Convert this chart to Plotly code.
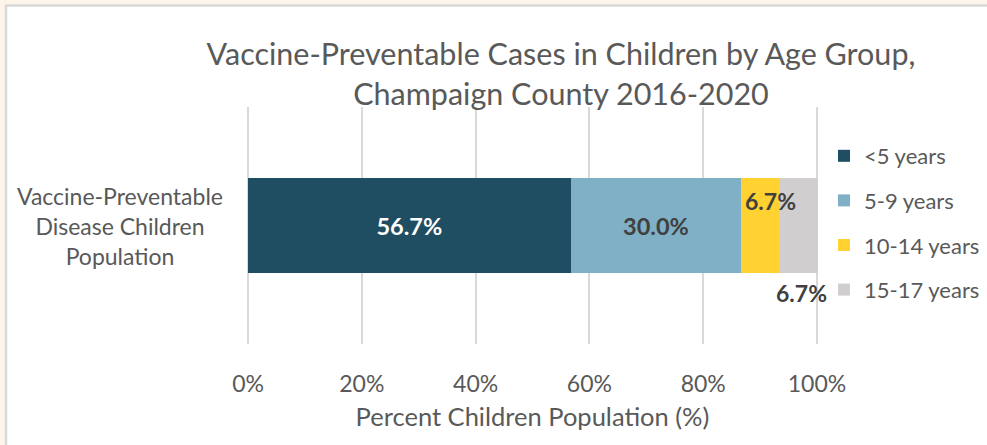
import plotly.graph_objects as go

category = ["Vaccine-Preventable Disease Children Population"]
age_groups = ["<5 years", "5-9 years", "10-14 years", "15-17 years"]
values = [56.7, 30.0, 6.7, 6.7]
colors = ["#1F4E63", "#7FB0C6", "#FFD232", "#D0CECE"]
label_colors = ["#FFFFFF", "#404040", "#404040", "#404040"]
x_ticks = [0, 20, 40, 60, 80, 100]
x_tick_labels = ["0%", "20%", "40%", "60%", "80%", "100%"]

FONT = "Lato, Open Sans, sans-serif"
W, H = 987, 445
L, R, T, B = 247, 169, 107, 101
PW, PH = W - L - R, H - T - B


def px_x(p):
    return (p - L) / PW


def px_y(p):
    return (H - B - p) / PH


fig = go.Figure()
for i, (name, v, c) in enumerate(zip(age_groups, values, colors)):
    inside = i < 2
    fig.add_trace(go.Bar(
        y=category, x=[v], name=name, orientation="h",
        marker=dict(color=c, line=dict(width=0)),
        text=[f"{v:.1f}%"] if inside else None,
        textposition="inside" if inside else "none",
        insidetextanchor="middle",
        textfont=dict(family=FONT, size=23.5, color=label_colors[i], weight="bold"),
        legendgroup=f"g{i}",
        hoverinfo="name+x",
    ))

# labels for the small segments, placed in data coordinates
cum = [sum(values[:i]) for i in range(len(values))]
fig.add_annotation(x=cum[2], y=0, xref="x", yref="y", text=f"{values[2]:.1f}%",
                   showarrow=False, xanchor="left", yanchor="middle", xshift=2, yshift=25,
                   font=dict(family=FONT, size=23, color="#404040", weight="bold"))
fig.add_annotation(x=cum[3], y=0, xref="x", yref="y", text=f"{values[3]:.1f}%",
                   showarrow=False, xanchor="left", yanchor="middle", xshift=-5, yshift=-67,
                   font=dict(family=FONT, size=23, color="#404040", weight="bold"))

# category label
fig.add_annotation(x=px_x(120), y=px_y(226), xref="paper", yref="paper",
                   text="Vaccine-Preventable<br>Disease Children<br>Population",
                   showarrow=False, align="center", xanchor="center", yanchor="middle",
                   font=dict(family=FONT, size=23, color="#595959"))

# chart frame
fig.add_shape(type="rect", xref="paper", yref="paper", layer="below",
              x0=px_x(6), x1=px_x(1000), y0=px_y(460), y1=px_y(5.5),
              fillcolor="#FFFFFF", line=dict(color="#D9D9D9", width=2.5))

fig.update_layout(
    width=W, height=H,
    margin=dict(l=L, r=R, t=T, b=B, autoexpand=False),
    paper_bgcolor="#FDF5EA", plot_bgcolor="rgba(0,0,0,0)",
    barmode="stack", bargap=0.599,
    title=dict(text="Vaccine-Preventable Cases in Children by Age Group,<br>Champaign County 2016-2020",
               x=561 / W, xanchor="center", y=1 - 65 / H, yanchor="middle",
               font=dict(family=FONT, size=30.5, color="#595959")),
    font=dict(family=FONT, color="#595959"),
    showlegend=True,
    legend=dict(x=px_x(824), xanchor="left", y=px_y(135), yanchor="top",
                traceorder="grouped", tracegroupgap=13,
                font=dict(family=FONT, size=22, color="#595959"),
                bgcolor="rgba(0,0,0,0)", itemwidth=30),
    xaxis=dict(range=[-0.18, 100.18], tickvals=x_ticks, ticktext=x_tick_labels,
               showgrid=True, gridcolor="#D9D9D9", gridwidth=2,
               zeroline=False, showline=False, ticks="", ticklabelstandoff=24,
               tickfont=dict(family=FONT, size=23, color="#595959"),
               title=dict(text="Percent Children Population (%)", standoff=12,
                          font=dict(family=FONT, size=25.5, color="#595959"))),
    yaxis=dict(showticklabels=False, showgrid=False, zeroline=False, showline=False),
)

fig.write_html("out.html", config={"displayModeBar": False},
               post_script="document.body.style.margin='0';")
